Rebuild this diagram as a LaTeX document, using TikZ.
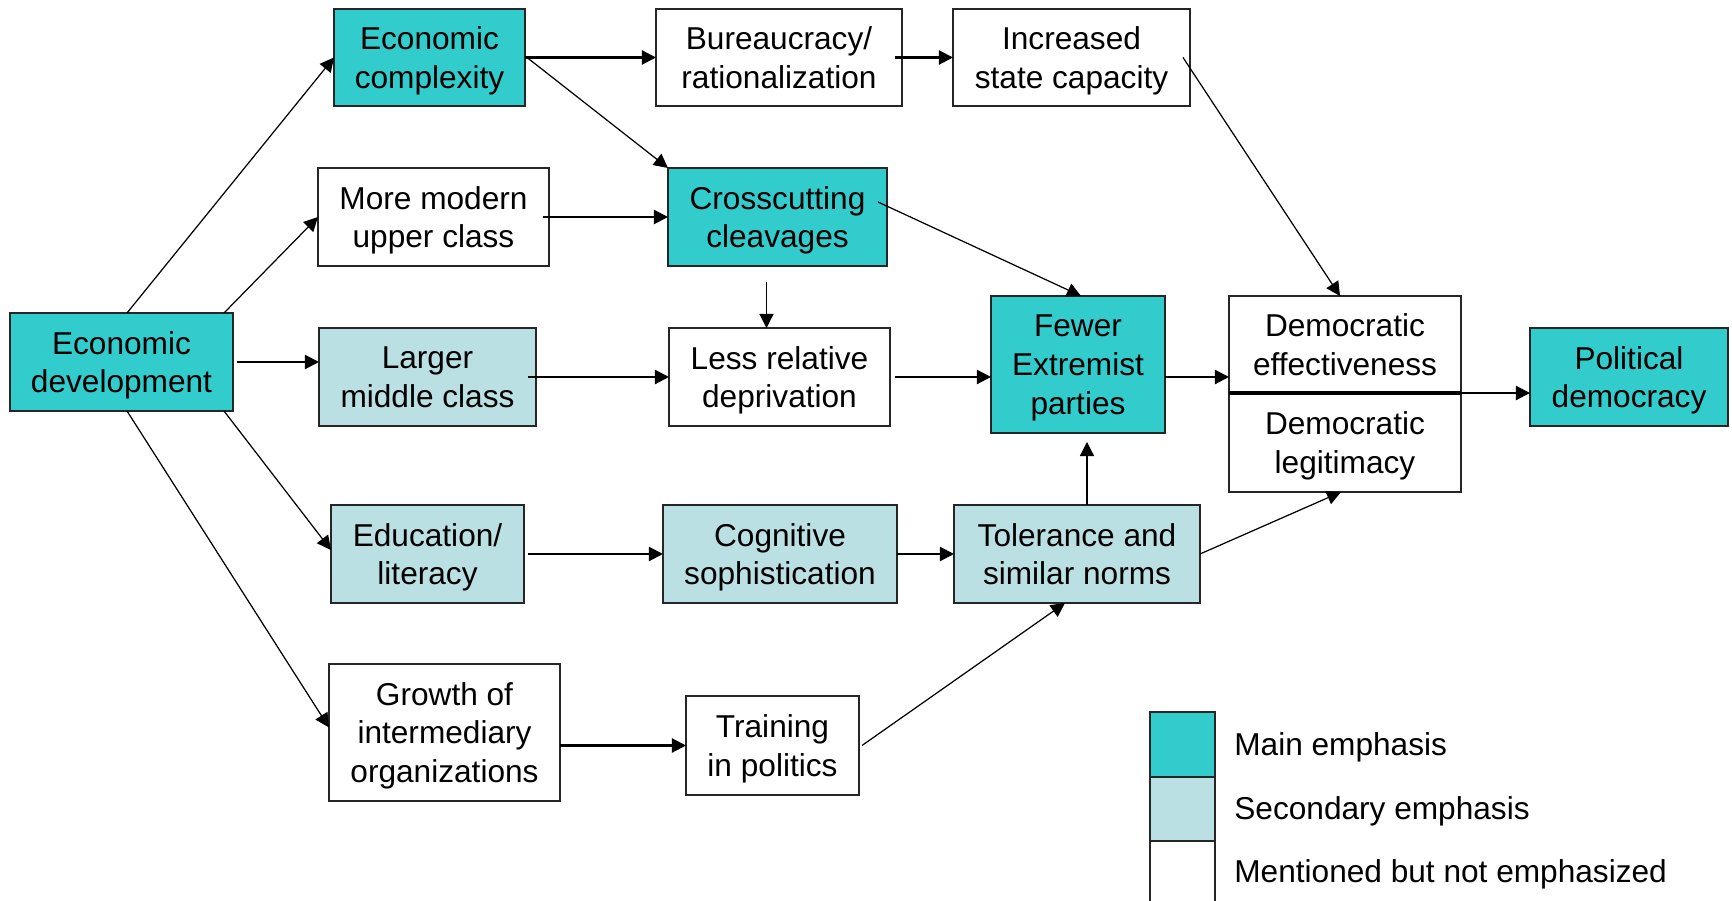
\documentclass[tikz,border=0pt]{standalone}
\usepackage{fontspec}
\setmainfont{Liberation Sans}
\usetikzlibrary{arrows.meta,calc}
\definecolor{mainc}{HTML}{33CCCC}
\definecolor{secc}{HTML}{BBE0E3}
\begin{document}
\begin{tikzpicture}[x=0.02cm,y=-0.02cm,
  box/.style={draw=black!85,line width=1.1pt,inner sep=0pt,outer sep=0pt,align=center,
    text depth=0pt,font=\fontsize{18}{22}\selectfont},
  sz/.style 2 args={minimum width=#1*0.02cm,minimum height=#2*0.02cm},
  mainbox/.style={box,fill=mainc},
  secbox/.style={box,fill=secc},
  plainbox/.style={box,fill=white},
  thick arrow/.style={line width=1.2pt,-{Triangle[length=8pt,width=8pt]}},
  thin arrow/.style={line width=0.7pt,-{Triangle[length=8pt,width=8pt]}},
  legtext/.style={anchor=west,inner sep=0pt,text depth=0pt,font=\fontsize{18}{22}\selectfont}]
\useasboundingbox (0,0) rectangle (1732,901);

% nodes
\node[mainbox,sz={223}{98}] (ed) at (121.5,362) {Economic\\development};
\node[mainbox,sz={191}{97}] (ec) at (429.5,57.5) {Economic\\complexity};
\node[plainbox,sz={246}{97}] (bu) at (779,57.5) {Bureaucracy/\\rationalization};
\node[plainbox,sz={237}{97}] (isc) at (1071.5,57.5) {Increased\\state capacity};
\node[plainbox,sz={231}{98}] (mm) at (433.5,217) {More modern\\upper class};
\node[mainbox,sz={219}{98}] (cc) at (777.5,217) {Crosscutting\\cleavages};
\node[secbox,sz={217}{98}] (lm) at (427.5,377) {Larger\\middle class};
\node[plainbox,sz={221}{98}] (lr) at (779.5,377) {Less relative\\deprivation};
\node[mainbox,sz={174}{137}] (fe) at (1078,364.5) {Fewer\\Extremist\\parties};
\node[plainbox,sz={232}{97}] (demeff) at (1345,344.5) {Democratic\\effectiveness};
\node[plainbox,sz={232}{99}] (demleg) at (1345,442.5) {Democratic\\legitimacy};
\node[mainbox,sz={198}{98}] (pd) at (1629,377) {Political\\democracy};
\node[secbox,sz={193}{98}] (edu) at (427.5,554) {Education/\\literacy};
\node[secbox,sz={234}{98}] (cog) at (780,554) {Cognitive\\sophistication};
\node[secbox,sz={246}{98}] (tol) at (1077,554) {Tolerance and\\similar norms};
\node[plainbox,sz={231}{137}] (gr) at (444.5,732.5) {Growth of\\intermediary\\organizations};
\node[plainbox,sz={173}{99}] (tr) at (772.5,745.5) {Training\\in politics};

% divider emphasis
\draw[line width=1.8pt] (demeff.south west) -- (demeff.south east);

% legend
\node[mainbox,sz={65}{65}] (lg1) at (1182.5,744.5) {};
\node[secbox,sz={65}{64}] (lg2) at (1182.5,809) {};
\coordinate (lg3a) at (1150,905);
\coordinate (lg3b) at (1215,905);
\draw[draw=black!85,line width=1.1pt] (lg3a) -- (lg2.south west) (lg2.south east) -- (lg3b);
\node[legtext] (l1) at (1234,744.5) {Main emphasis};
\node[legtext] (l2) at (1234,808) {Secondary emphasis};
\node[legtext] (l3) at (1234,871.5) {Mentioned but not emphasized};

% connectors
\draw[thin arrow] ($(ed.north west)+(117,0)$) -- (ec.west);
\draw[thin arrow] ($(ed.north west)+(214,0)$) -- (mm.west);
\draw[thick arrow] ($(ed.east)+(4,0)$) -- (lm.west |- ed.east);
\draw[thin arrow] ($(ed.south west)+(214,0)$) -- ($(edu.west)+(0,-4)$);
\draw[thin arrow] ($(ed.south west)+(117,0)$) -- ($(gr.west)+(0,-5)$);
\draw[thick arrow] (ec.east) -- (bu.west);
\draw[thin arrow] ($(ec.east)+(2,0)$) -- (cc.north west);
\draw[thick arrow] ($(bu.east)+(-7,0)$) -- (isc.west);
\draw[thin arrow] ($(isc.east)+(-7,0)$) -- ($(demeff.north west)+(111,0)$);
\draw[thick arrow] ($(mm.east)+(-6,0)$) -- (cc.west);
\draw[thin arrow] ($(cc.east)+(-9,-15)$) -- ($(fe.north west)+(90,0)$);
\draw[thin arrow] ($(cc.south)+(-11,16)$) -- ($(lr.north)+(-13,0)$);
\draw[thick arrow] ($(lm.east)+(-8,0)$) -- (lr.west);
\draw[thick arrow] ($(lr.east)+(5,0)$) -- (fe.west |- lr.east);
\draw[thick arrow] (fe.east |- lr.east) -- (demeff.west |- lr.east);
\draw[thick arrow] (demeff.south east) -- (pd.west |- demeff.south east);
\draw[thick arrow] ($(edu.east)+(4,0)$) -- (cog.west);
\draw[thick arrow] (cog.east) -- (tol.west);
\draw[thin arrow] ($(tol.north)+(10,0)$) -- ($(fe.south)+(9,9)$);
\draw[thin arrow] (tol.east) -- ($(demleg.south)+(-4,0)$);
\draw[thick arrow] (gr.east |- tr.west) -- (tr.west);
\draw[thin arrow] ($(tr.east)+(3,0)$) -- ($(tol.south)+(-12,0)$);
\end{tikzpicture}
\end{document}
